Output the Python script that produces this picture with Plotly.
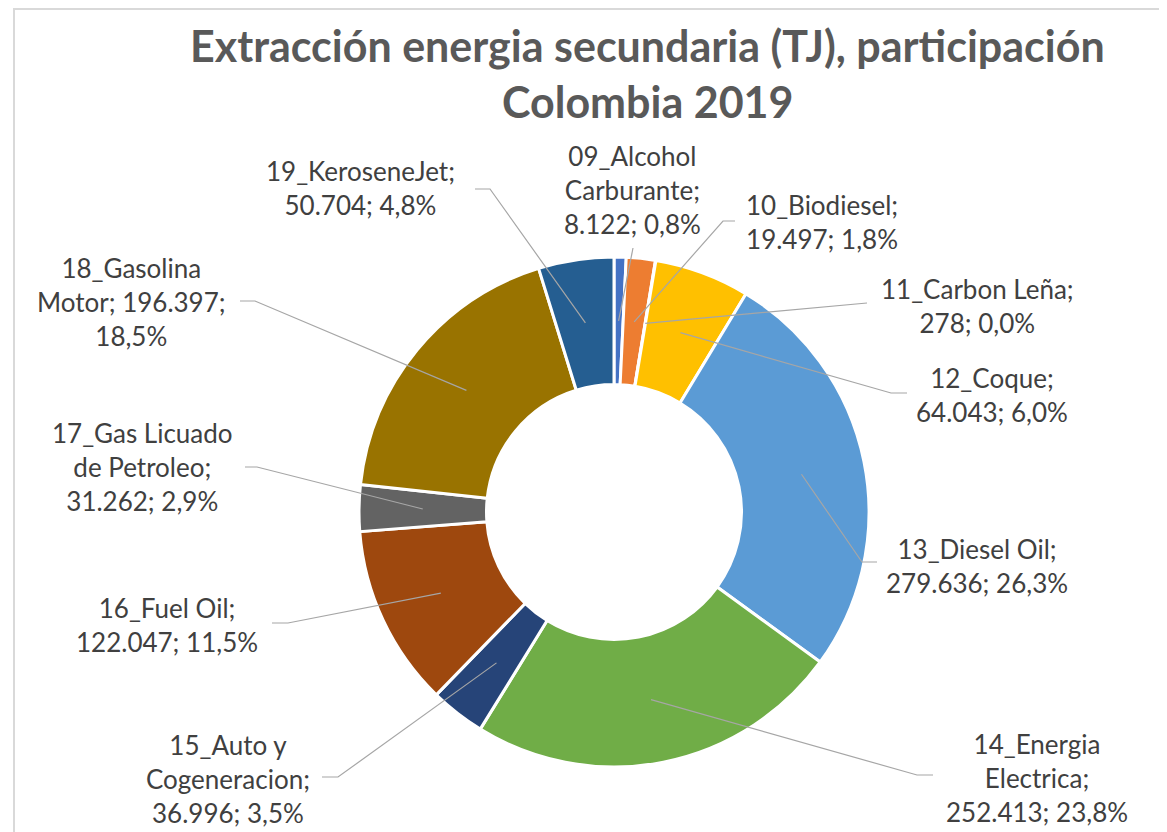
import math
import plotly.graph_objects as go

# ---------------- data ----------------
names = ["09_Alcohol Carburante", "10_Biodiesel", "11_Carbon Leña", "12_Coque",
         "13_Diesel Oil", "14_Energia Electrica", "15_Auto y Cogeneracion",
         "16_Fuel Oil", "17_Gas Licuado de Petroleo", "18_Gasolina Motor",
         "19_KeroseneJet"]
values = [8122, 19497, 278, 64043, 279636, 252413, 36996, 122047, 31262, 196397, 50704]
colors = ["#4472C4", "#ED7D31", "#A5A5A5", "#FFC000", "#5B9BD5", "#70AD47",
          "#264478", "#9E480E", "#636363", "#997300", "#255E91"]
title_lines = ["Extracción energia secundaria (TJ), participación", "Colombia 2019"]

# ---------------- layout (page pixels) ----------------
OFF = 8                      # page body margin
W, H = 1167 - OFF, 832 - OFF
CX, CY, R = 614, 512, 255
HOLE = 0.5
# label centre (x, y) in px
label_pos = [(632, 190), (822, 222), (977, 306), (992, 395), (977, 566), (1037, 778),
             (228, 779), (167, 625), (142, 467), (132, 302), (360, 188)]
# leader start point (label side) and horizontal stub length (+ right, - left)
leader_start = [(633, 248, 0), (735, 221, -12), (867, 303, 0), (907, 393, -16),
                (877, 562, -15), (933, 775, -16), (322, 777, 16), (272, 623, 16),
                (245, 467, 12), (240, 301, 15), (475, 189, 15)]
# token indices after which the label breaks a line
label_breaks = [[0, 1], [0], [1], [0], [1], [0, 1], [1, 2], [1], [1, 3], [0, 2], [0]]


def px(x):
    return (x - OFF) / W


def py(y):
    return 1 - (y - OFF) / H


def fmt_int(v):
    return f"{v:,}".replace(",", ".")


total = sum(values)

fig = go.Figure()
fig.add_trace(go.Pie(
    labels=names, values=values, hole=HOLE, sort=False, direction="clockwise",
    rotation=0, textinfo="none", hoverinfo="label+value+percent",
    marker=dict(colors=colors, line=dict(color="white", width=3)),
    domain=dict(x=[px(CX - R), px(CX + R)], y=[py(CY + R), py(CY - R)]),
    showlegend=False,
))

shapes = []
annotations = []
cum = 0
rm = R * (1 + HOLE) / 2
for i, (n, v) in enumerate(zip(names, values)):
    mid = (cum + v / 2) / total * 2 * math.pi
    cum += v
    ex = CX + rm * math.sin(mid)
    ey = CY - rm * math.cos(mid)
    sx, sy, stub = leader_start[i]
    path = f"M {px(sx)} {py(sy)} L {px(sx + stub)} {py(sy)} L {px(ex)} {py(ey)}"
    shapes.append(dict(type="path", path=path, xref="paper", yref="paper",
                       line=dict(color="#A6A6A6", width=1.2)))
    pct = f"{v / total * 100:.1f}".replace(".", ",") + "%"
    toks = f"{n}; {fmt_int(v)}; {pct}".split(" ")
    text = ""
    for j, t in enumerate(toks):
        text += t
        if j < len(toks) - 1:
            text += "<br>" if j in label_breaks[i] else " "
    lx, ly = label_pos[i]
    annotations.append(dict(x=px(lx), y=py(ly), xref="paper", yref="paper",
                            text=text, showarrow=False, align="center",
                            xanchor="center", yanchor="middle",
                            font=dict(family="Lato", size=26, color="#404040")))

for t, ty in zip(title_lines, [46, 101]):
    annotations.append(dict(x=px(647), y=py(ty), xref="paper", yref="paper",
                            text=f"<b>{t}</b>", showarrow=False,
                            xanchor="center", yanchor="middle",
                            font=dict(family="Lato", size=43, color="#595959")))

# chart area border
shapes.append(dict(type="rect", xref="paper", yref="paper", x0=px(14), y0=-0.1,
                   x1=1.1, y1=py(9), line=dict(color="#D9D9D9", width=2),
                   layer="below"))

fig.update_layout(width=W, height=H, margin=dict(l=0, r=0, t=0, b=0),
                  paper_bgcolor="white", plot_bgcolor="white",
                  shapes=shapes, annotations=annotations)

fig.write_html("out.html")
